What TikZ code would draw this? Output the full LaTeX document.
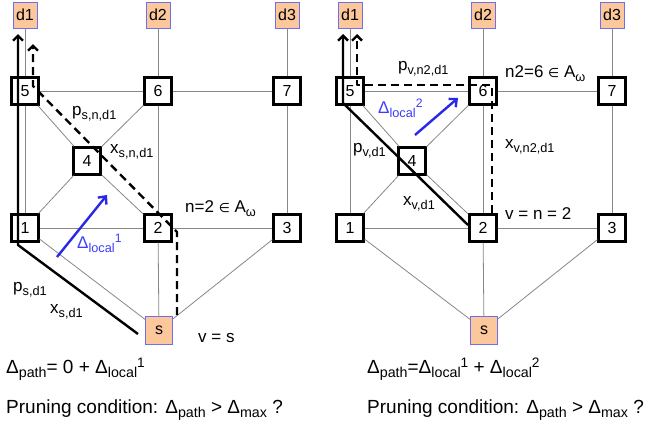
\documentclass[tikz,border=0pt]{standalone}
\usepackage{fontspec}
\usepackage{graphicx}
\setmainfont{Liberation Sans}
\newfontfamily\symfont{DejaVu Sans}
\usetikzlibrary{arrows.meta}

\definecolor{termfill}{RGB}{252,200,155}
\definecolor{termedge}{RGB}{110,110,240}
\definecolor{linkgray}{RGB}{135,135,135}
\definecolor{deltablue}{RGB}{40,40,230}
\definecolor{labelblue}{RGB}{60,60,255}

% lowered / raised indices in text
\newcommand\lo[1]{\raisebox{-0.25em}{\scalebox{0.75}{#1}}}
\newcommand\hi[1]{\raisebox{0.3em}{\scalebox{0.72}{#1}}}
\newcommand\elem{{\symfont\scalebox{0.75}{∈}}}

\begin{document}
\begin{tikzpicture}[x=1pt,y=-1pt,
  box/.style={draw=black,line width=2.2pt,fill=white,minimum width=27pt,
    minimum height=27pt,inner sep=0pt,font=\fontsize{16}{16}\selectfont},
  term/.style={draw=termedge,line width=0.8pt,fill=termfill,minimum width=24pt,
    minimum height=26pt,inner sep=0pt,font=\fontsize{16}{16}\selectfont},
  link/.style={draw=linkgray,line width=0.8pt},
  route/.style={line width=2.4pt,line join=round,
    -{Straight Barb[length=5pt,width=10pt]}},
  altroute/.style={route,dash pattern=on 8pt off 5pt},
  gain/.style={draw=deltablue,line width=2.4pt,
    -{Straight Barb[length=6pt,width=11pt]}},
  lbl/.style={anchor=base west,inner sep=0pt,font=\fontsize{17}{17}\selectfont},
  eq/.style={anchor=base west,inner sep=0pt,font=\fontsize{19}{19}\selectfont}]
\useasboundingbox (0,0) rectangle (650,426);

% two copies of the network
\foreach \p/\dx in {L/0,R/325}{
  \begin{scope}[xshift=\dx pt]
    \node[term] (\p d1) at (25,15) {d1};
    \node[term] (\p d2) at (158,15) {d2};
    \node[term] (\p d3) at (287,15) {d3};
    \node[box] (\p 5) at (25,91) {5};
    \node[box] (\p 6) at (158,91) {6};
    \node[box] (\p 7) at (287,91) {7};
    \node[box] (\p 4) at (87,161) {4};
    \node[box] (\p 1) at (25,228) {1};
    \node[box] (\p 2) at (158,228) {2};
    \node[box] (\p 3) at (287,228) {3};
    \node[term,minimum width=27pt,minimum height=28pt] (\p s) at (159,330) {s};
    \foreach \a/\b in {d1/5,d2/6,d3/7,5/6,6/7,5/4,6/4,4/1,4/2,5/1,6/2,7/3,1/2,2/3,1/s,2/s,3/s}
      \draw[link] (\p\a) -- (\p\b);
  \end{scope}
}

% left: current path and candidate path
\coordinate (La) at (138,334);
\coordinate (Lb) at (18,245);
\coordinate (Lc) at (18,34);
\draw[route] (La) -- (Lb) -- (Lc);
\coordinate (Le) at (177,315);
\coordinate (Lf) at (177,232);
\coordinate (Lg) at (33,86);
\coordinate (Lh) at (33,44);
\draw[altroute] (Le) -- (Lf) -- (Lg) -- (Lh);
\coordinate (Lu) at (57,257);
\coordinate (Lv) at (107,195);
\draw[gain] (Lu) -- (Lv);

\node[lbl] (tpsn) at (72,115) {p\lo{s,n,d1}};
\node[lbl] (txsn) at (110,153) {x\lo{s,n,d1}};
\node[lbl] (tn) at (185,212) {n=2 \elem{} A\lo{ω}};
\node[lbl] (tps) at (13,291) {p\lo{s,d1}};
\node[lbl] (txs) at (50,313) {x\lo{s,d1}};
\node[lbl] (tvs) at (198,342) {v = s};
\node[lbl,text=labelblue] (tdl1) at (77,248) {Δ\lo{local}\hi{1}};

% right: path extended through n2 = 6
\coordinate (Ra) at (468,225);
\coordinate (Rb) at (343,103);
\coordinate (Rc) at (343,34);
\draw[route] (Ra) -- (Rb) -- (Rc);
\coordinate (Re) at (492,213);
\coordinate (Rf) at (492,85);
\coordinate (Rg) at (357,85);
\coordinate (Rh) at (357,34);
\draw[altroute] (Re) -- (Rf) -- (Rg) -- (Rh);
\coordinate (Ru) at (415,135);
\coordinate (Rv) at (458,98);
\draw[gain] (Ru) -- (Rv);

\node[lbl] (tpvn) at (398,70) {p\lo{v,n2,d1}};
\node[lbl] (tn2) at (505,77) {n2=6 \elem{} A\lo{ω}};
\node[lbl,text=labelblue] (tdl2) at (378,113) {Δ\lo{local}\hi{2}};
\node[lbl] (txvn) at (505,148) {x\lo{v,n2,d1}};
\node[lbl] (tpv) at (353,152) {p\lo{v,d1}};
\node[lbl] (txv) at (403,205) {x\lo{v,d1}};
\node[lbl] (tvn) at (505,219) {v = n = 2};

% path cost and pruning test
\node[eq] (eqL) at (6,373) {Δ\lo{path}= 0 + Δ\lo{local}\hi{1}};
\node[eq] (prL) at (6,413) {Pruning condition: Δ\lo{path} > Δ\lo{max} ?};
\node[eq] (eqR) at (367,373) {Δ\lo{path}=Δ\lo{local}\hi{1} + Δ\lo{local}\hi{2}};
\node[eq] (prR) at (367,413) {Pruning condition: Δ\lo{path} > Δ\lo{max} ?};
\end{tikzpicture}
\end{document}
